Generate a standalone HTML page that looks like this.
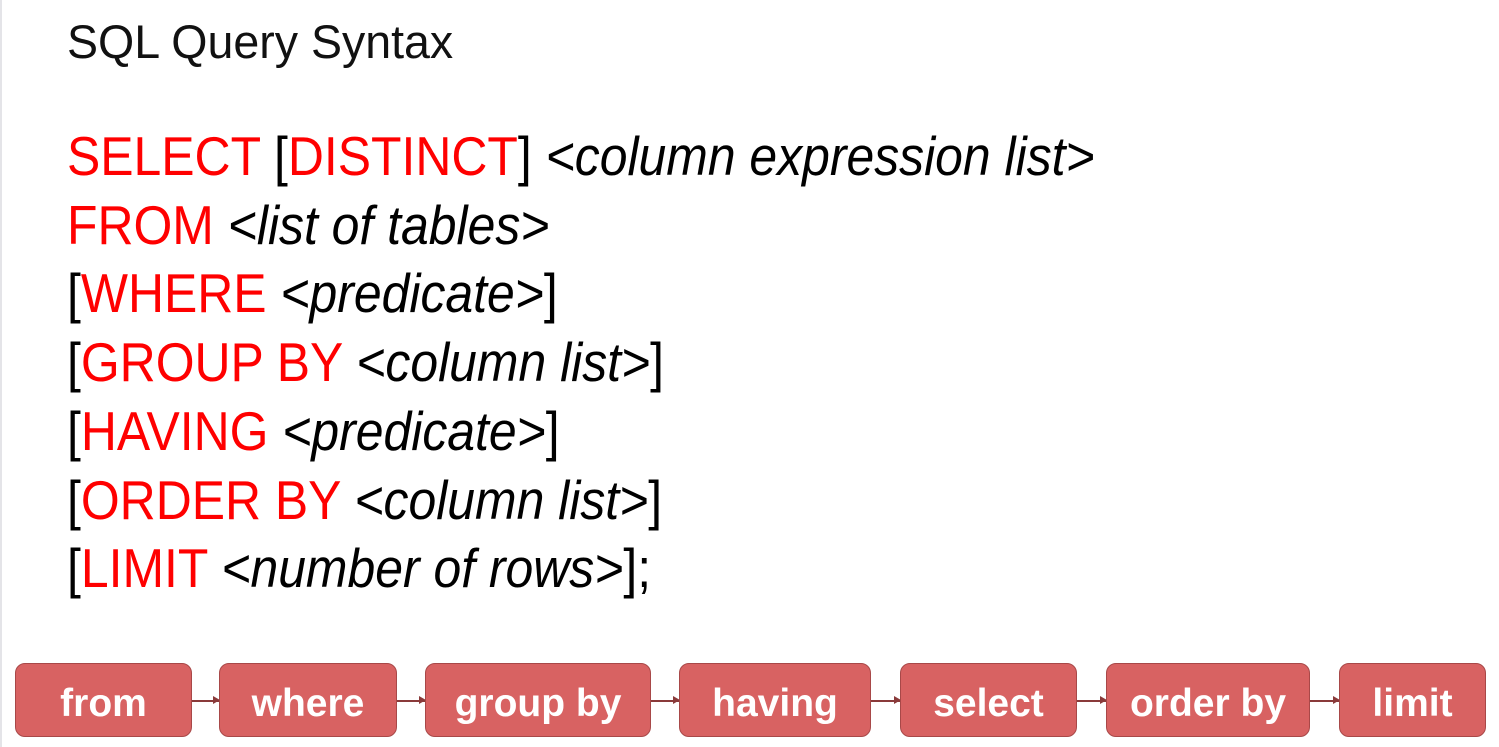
<!DOCTYPE html>
<html><head><meta charset="utf-8"><style>
body{margin:0;width:1499px;height:747px;background:#fff;position:relative;overflow:hidden;font-family:"Liberation Sans",sans-serif;}
.edge{position:absolute;left:0;top:0;width:2px;height:747px;background:#e4e4e8;}
.t{position:absolute;left:67px;top:19px;font-size:47px;line-height:46px;color:#111;transform:scaleX(0.99);transform-origin:left;}
.l{position:absolute;left:67px;font-size:55px;line-height:68px;color:#000;white-space:nowrap;transform:scaleX(0.907);transform-origin:left;}
.r{color:#ff0000;}
i{font-style:italic;}
.b{position:absolute;top:663px;height:74px;padding-top:7px;background:#d86262;border:1px solid #a84848;border-radius:10px;box-sizing:border-box;color:#fff;font-weight:bold;font-size:39px;display:flex;align-items:center;justify-content:center;}
.a{position:absolute;top:700px;height:1.5px;background:#8a3a3a;}
.a:after{content:"";position:absolute;right:-1px;top:-4px;border-left:7px solid #8a3a3a;border-top:4.5px solid transparent;border-bottom:4.5px solid transparent;}
</style></head><body>
<div class="edge"></div>
<div class="t">SQL Query Syntax</div>
<div class="l" style="top:122px"><span class="r">SELECT</span> [<span class="r">DISTINCT</span>] <i>&lt;column expression list&gt;</i></div>
<div class="l" style="top:191px"><span class="r">FROM</span> <i>&lt;list of tables&gt;</i></div>
<div class="l" style="top:259px">[<span class="r">WHERE</span> <i>&lt;predicate&gt;</i>]</div>
<div class="l" style="top:328px">[<span class="r">GROUP BY</span> <i>&lt;column list&gt;</i>]</div>
<div class="l" style="top:397px">[<span class="r">HAVING</span> <i>&lt;predicate&gt;</i>]</div>
<div class="l" style="top:466px">[<span class="r">ORDER BY</span> <i>&lt;column list&gt;</i>]</div>
<div class="l" style="top:534px">[<span class="r">LIMIT</span> <i>&lt;number of rows&gt;</i>];</div>
<div class="b" style="left:15px;width:177px">from</div>
<div class="a" style="left:192px;width:27px"></div>
<div class="b" style="left:219px;width:178px">where</div>
<div class="a" style="left:397px;width:28px"></div>
<div class="b" style="left:425px;width:226px">group by</div>
<div class="a" style="left:651px;width:28px"></div>
<div class="b" style="left:679px;width:192px">having</div>
<div class="a" style="left:871px;width:29px"></div>
<div class="b" style="left:900px;width:177px">select</div>
<div class="a" style="left:1077px;width:29px"></div>
<div class="b" style="left:1106px;width:204px">order by</div>
<div class="a" style="left:1310px;width:29px"></div>
<div class="b" style="left:1339px;width:147px">limit</div>
</body></html>
